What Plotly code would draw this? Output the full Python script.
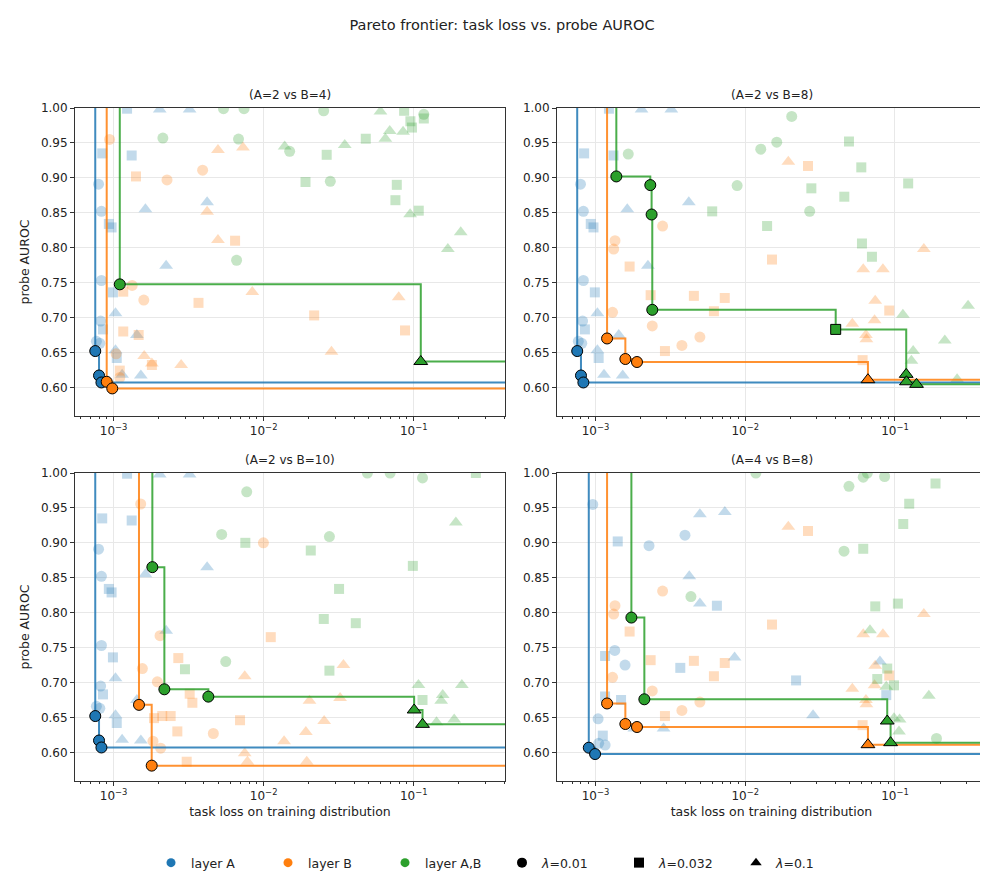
import numpy as np
import plotly.graph_objects as go
from plotly.subplots import make_subplots

# every run: (task loss, probe AUROC, lambda)
layerA_A2 = [
    (0.000794, 0.891, 0.01), (0.00083, 0.852, 0.01), (0.00083, 0.753, 0.01),
    (0.00082, 0.695, 0.01), (0.000768, 0.666, 0.01), (0.00081, 0.663, 0.01),
    (0.000755, 0.652, 0.01), (0.000800, 0.617, 0.01), (0.00083, 0.607, 0.01),
    (0.00123, 0.999, 0.032), (0.00084, 0.935, 0.032), (0.00132, 0.932, 0.032),
    (0.00093, 0.834, 0.032), (0.00097, 0.829, 0.032), (0.00099, 0.736, 0.032),
    (0.00085, 0.683, 0.032), (0.00105, 0.642, 0.032),
    (0.00203, 0.998, 0.1), (0.00321, 0.998, 0.1), (0.00163, 0.855, 0.1),
    (0.0042, 0.865, 0.1), (0.00224, 0.774, 0.1), (0.00103, 0.706, 0.1),
    (0.00143, 0.675, 0.1), (0.00103, 0.653, 0.1), (0.00114, 0.618, 0.1),
    (0.00152, 0.617, 0.1),
]
layerA_A4 = [
    (0.000959, 0.955, 0.01), (0.002278, 0.896, 0.01), (0.00396, 0.911, 0.01),
    (0.001345, 0.746, 0.01), (0.001576, 0.725, 0.01), (0.001041, 0.648, 0.01),
    (0.00105, 0.613, 0.01), (0.00116, 0.6105, 0.01), (0.000902, 0.6067, 0.01),
    (0.000994, 0.5976, 0.01),
    (0.001408, 0.902, 0.032), (0.00647, 0.810, 0.032), (0.001159, 0.738, 0.032),
    (0.003685, 0.721, 0.032), (0.02186, 0.703, 0.032), (0.0875, 0.682, 0.032),
    (0.001159, 0.680, 0.032), (0.001482, 0.675, 0.032), (0.001119, 0.624, 0.032),
    (0.00498, 0.941, 0.1), (0.00731, 0.944, 0.1), (0.00423, 0.852, 0.1),
    (0.00498, 0.813, 0.1), (0.00849, 0.736, 0.1), (0.0794, 0.730, 0.1),
    (0.02838, 0.653, 0.1), (0.00285, 0.634, 0.1), (0.001818, 0.634, 0.1),
]
layerB_B4 = [
    (0.00094, 0.955, 0.01), (0.00392, 0.911, 0.01), (0.00227, 0.897, 0.01),
    (0.00133, 0.746, 0.01), (0.00159, 0.725, 0.01), (0.00104, 0.648, 0.01),
    (0.00110, 0.614, 0.01), (0.00090, 0.608, 0.01), (0.00098, 0.5985, 0.01),
    (0.00141, 0.902, 0.032), (0.00645, 0.810, 0.032), (0.00116, 0.737, 0.032),
    (0.00368, 0.721, 0.032), (0.0217, 0.703, 0.032), (0.0875, 0.6815, 0.032),
    (0.00116, 0.680, 0.032), (0.00147, 0.675, 0.032), (0.0018, 0.632, 0.032),
    (0.0011, 0.624, 0.032),
    (0.00496, 0.940, 0.1), (0.00728, 0.9435, 0.1), (0.0042, 0.8515, 0.1),
    (0.00496, 0.811, 0.1), (0.0084, 0.7366, 0.1), (0.0794, 0.729, 0.1),
    (0.0016, 0.645, 0.1), (0.0283, 0.651, 0.1), (0.0018, 0.634, 0.1),
    (0.00282, 0.632, 0.1),
]
layerB_B8 = [
    (0.002807, 0.831, 0.01), (0.00135, 0.810, 0.01), (0.001323, 0.798, 0.01),
    (0.0013, 0.7075, 0.01), (0.002395, 0.688, 0.01), (0.00498, 0.672, 0.01),
    (0.003777, 0.660, 0.01), (0.001195, 0.670, 0.01), (0.001583, 0.6406, 0.01),
    (0.001893, 0.6363, 0.01),
    (0.02626, 0.917, 0.032), (0.00169, 0.773, 0.032), (0.0151, 0.783, 0.032),
    (0.002335, 0.732, 0.032), (0.004541, 0.731, 0.032), (0.0073, 0.728, 0.032),
    (0.00618, 0.709, 0.032), (0.0916, 0.710, 0.032), (0.00291, 0.652, 0.032),
    (0.0608, 0.639, 0.032),
    (0.0194, 0.923, 0.1), (0.1559, 0.798, 0.1), (0.0614, 0.769, 0.1),
    (0.0831, 0.769, 0.1), (0.0738, 0.724, 0.1), (0.0519, 0.691, 0.1),
    (0.0731, 0.696, 0.1), (0.064, 0.675, 0.1), (0.0645, 0.669, 0.1),
    (0.066, 0.611, 0.1),
]
layerB_B10 = [
    (0.001516, 0.9556, 0.01), (0.00996, 0.900, 0.01), (0.00204, 0.767, 0.01),
    (0.001555, 0.720, 0.01), (0.001957, 0.701, 0.01), (0.00183, 0.616, 0.01),
    (0.00206, 0.606, 0.01), (0.00462, 0.627, 0.01), (0.001477, 0.668, 0.01),
    (0.001795, 0.581, 0.01),
    (0.01115, 0.765, 0.032), (0.0027, 0.735, 0.032), (0.003215, 0.684, 0.032),
    (0.00335, 0.671, 0.032), (0.00186, 0.649, 0.032), (0.00211, 0.652, 0.032),
    (0.0024, 0.652, 0.032), (0.00266, 0.630, 0.032), (0.00696, 0.646, 0.032),
    (0.00307, 0.5866, 0.032),
    (0.034, 0.725, 0.1), (0.00748, 0.709, 0.1), (0.0202, 0.674, 0.1),
    (0.0323, 0.678, 0.1), (0.0253, 0.645, 0.1), (0.0191, 0.629, 0.1),
    (0.01368, 0.616, 0.1), (0.00748, 0.5986, 0.1), (0.0078, 0.5866, 0.1),
    (0.01937, 0.5866, 0.1),
]
layerAB_A2_B4 = [
    (0.0054, 0.999, 0.01), (0.0074, 0.999, 0.01), (0.0251, 0.996, 0.01),
    (0.1167, 0.991, 0.01), (0.00213, 0.957, 0.01), (0.0068, 0.9555, 0.01),
    (0.0149, 0.938, 0.01), (0.0278, 0.895, 0.01), (0.0066, 0.782, 0.01),
    (0.0011, 0.7475, 0.01),
    (0.0863, 0.996, 0.032), (0.1167, 0.985, 0.032), (0.095, 0.981, 0.032),
    (0.0973, 0.972, 0.032), (0.0479, 0.956, 0.032), (0.0263, 0.933, 0.032),
    (0.019, 0.894, 0.032), (0.0771, 0.890, 0.032), (0.0755, 0.868, 0.032),
    (0.108, 0.853, 0.032),
    (0.06, 0.995, 0.1), (0.0692, 0.967, 0.1), (0.0849, 0.966, 0.1),
    (0.0647, 0.956, 0.1), (0.0347, 0.947, 0.1), (0.0138, 0.945, 0.1),
    (0.0946, 0.848, 0.1), (0.2056, 0.822, 0.1), (0.1687, 0.798, 0.1),
    (0.1114, 0.637, 0.1),
]
layerAB_A2_B8 = [
    (0.02044, 0.988, 0.01), (0.01624, 0.951, 0.01), (0.0127, 0.941, 0.01),
    (0.00883, 0.889, 0.01), (0.02695, 0.852, 0.01), (0.001655, 0.934, 0.01),
    (0.001378, 0.902, 0.01), (0.002323, 0.8896, 0.01), (0.00237, 0.8475, 0.01),
    (0.002395, 0.711, 0.01),
    (0.0493, 0.952, 0.032), (0.0596, 0.915, 0.032), (0.02765, 0.885, 0.032),
    (0.1225, 0.892, 0.032), (0.04589, 0.873, 0.032), (0.006018, 0.852, 0.032),
    (0.014, 0.831, 0.032), (0.0602, 0.806, 0.032), (0.0702, 0.787, 0.032),
    (0.0402, 0.683, 0.032),
    (0.113, 0.704, 0.1), (0.3078, 0.717, 0.1), (0.2152, 0.667, 0.1),
    (0.1323, 0.652, 0.1), (0.1288, 0.638, 0.1), (0.26, 0.6115, 0.1),
    (0.1189, 0.6186, 0.1), (0.1193, 0.608, 0.1), (0.1393, 0.6043, 0.1),
]
layerAB_A2_B10 = [
    (0.0491, 1.0, 0.01), (0.0696, 1.0, 0.01), (0.1144, 0.993, 0.01),
    (0.00771, 0.973, 0.01), (0.00525, 0.912, 0.01), (0.02743, 0.909, 0.01),
    (0.00559, 0.730, 0.01), (0.001813, 0.8652, 0.01), (0.00218, 0.6903, 0.01),
    (0.00428, 0.6798, 0.01),
    (0.2594, 1.0, 0.032), (0.00755, 0.900, 0.032), (0.0206, 0.889, 0.032),
    (0.0986, 0.867, 0.032), (0.0318, 0.834, 0.032), (0.02515, 0.791, 0.032),
    (0.0411, 0.785, 0.032), (0.00299, 0.719, 0.032), (0.02743, 0.717, 0.032),
    (0.1144, 0.675, 0.032),
    (0.1908, 0.929, 0.1), (0.1075, 0.6965, 0.1), (0.156, 0.682, 0.1),
    (0.1523, 0.674, 0.1), (0.2092, 0.6965, 0.1), (0.1418, 0.643, 0.1),
    (0.186, 0.647, 0.1), (0.1006, 0.6607, 0.1), (0.1144, 0.6401, 0.1),
]
layerAB_A4_B8 = [
    (0.01178, 1.0, 0.01), (0.0614, 0.994, 0.01), (0.0654, 1.0, 0.01),
    (0.0853, 0.995, 0.01), (0.0493, 0.981, 0.01), (0.04568, 0.888, 0.01),
    (0.00434, 0.823, 0.01), (0.1894, 0.620, 0.01), (0.001737, 0.793, 0.01),
    (0.00212, 0.676, 0.01),
    (0.1866, 0.985, 0.032), (0.1245, 0.956, 0.032), (0.1136, 0.927, 0.032),
    (0.0614, 0.8915, 0.032), (0.0739, 0.809, 0.032), (0.1046, 0.813, 0.032),
    (0.0888, 0.720, 0.032), (0.0762, 0.705, 0.032), (0.0985, 0.696, 0.032),
    (0.0681, 0.775, 0.1), (0.0875, 0.694, 0.1), (0.1684, 0.681, 0.1),
    (0.0985, 0.649, 0.1), (0.1074, 0.647, 0.1), (0.1064, 0.630, 0.1),
    (0.0888, 0.6449, 0.1), (0.0935, 0.6139, 0.1),
]

panel_titles = ["(A=2 vs B=4)", "(A=2 vs B=8)", "(A=2 vs B=10)", "(A=4 vs B=8)"]
panels = [
    (layerA_A2, layerB_B4, layerAB_A2_B4),
    (layerA_A2, layerB_B8, layerAB_A2_B8),
    (layerA_A2, layerB_B10, layerAB_A2_B10),
    (layerA_A4, layerB_B8, layerAB_A4_B8),
]
layer_names = ["layer A", "layer B", "layer A,B"]
layer_colors = ["#1f77b4", "#ff7f0e", "#2ca02c"]
lambdas = [0.01, 0.032, 0.1]
lambda_symbols = {0.01: "circle", 0.032: "square", 0.1: "triangle-up"}
lambda_sizes = {0.01: 11, 0.032: 10, 0.1: 12}

XLOG = [-3.257, -0.392]
YR = [0.559, 1.0]
W, H = 988, 878
FONT = "DejaVu Sans, Arial, sans-serif"

# pixel boxes of the four axes (left, right, top, bottom)
col_px = [(67, 497), (549, 978)]
row_px = [(100, 408), (465, 773)]


def pareto(points):
    # lower loss and lower AUROC are both better
    best = np.inf
    front = []
    for p in sorted(points, key=lambda p: (p[0], p[1])):
        if p[1] < best:
            front.append(p)
            best = p[1]
    return front


fig = make_subplots(rows=2, cols=2)

for k, datasets in enumerate(panels):
    row, col = k // 2 + 1, k % 2 + 1
    # faded runs
    for name, color, pts in zip(layer_names, layer_colors, datasets):
        for lam in lambdas:
            sel = [p for p in pts if p[2] == lam]
            fig.add_trace(go.Scatter(
                x=[p[0] for p in sel], y=[p[1] for p in sel], mode="markers",
                marker=dict(symbol=lambda_symbols[lam], size=lambda_sizes[lam],
                            color=color, opacity=0.27, line=dict(width=0)),
                showlegend=False, hoverinfo="skip"), row=row, col=col)
    # frontier steps
    for name, color, pts in zip(layer_names, layer_colors, datasets):
        front = pareto(pts)
        xs = [front[0][0]] + [p[0] for p in front] + [10 ** (XLOG[1] + 0.5)]
        ys = [YR[1] + 0.1] + [p[1] for p in front] + [front[-1][1]]
        fig.add_trace(go.Scatter(
            x=xs, y=ys, mode="lines", line=dict(color=color, width=2, shape="hv"),
            opacity=0.85, showlegend=False, hoverinfo="skip"), row=row, col=col)
    for name, color, pts in zip(layer_names, layer_colors, datasets):
        front = pareto(pts)
        fig.add_trace(go.Scatter(
            x=[p[0] for p in front], y=[p[1] for p in front], mode="markers",
            marker=dict(symbol=[lambda_symbols[p[2]] for p in front],
                        size=[lambda_sizes[p[2]] for p in front], opacity=1,
                        color=color, line=dict(color="black", width=1)),
            showlegend=False), row=row, col=col)

# legend entries
for name, color in zip(layer_names, layer_colors):
    fig.add_trace(go.Scatter(x=[None], y=[None], mode="markers", name=name,
                             marker=dict(symbol="circle", size=9, color=color)))
for lam, lab in zip(lambdas, ["0.01", "0.032", "0.1"]):
    fig.add_trace(go.Scatter(x=[None], y=[None], mode="markers",
                             name=f"<i>λ</i>=" + lab,
                             marker=dict(symbol=lambda_symbols[lam], size=10, color="black")))

minor_vals = [m * 10.0 ** e for e in range(-4, 0) for m in range(2, 10)
              if XLOG[0] <= np.log10(m * 10.0 ** e) <= XLOG[1]]

annotations = []
for k in range(4):
    r, c = k // 2, k % 2
    x0, x1 = col_px[c]
    y0, y1 = row_px[r]
    ax = "" if k == 0 else str(k + 1)
    fig.layout["xaxis" + ax].update(
        domain=[x0 / W, x1 / W], type="log", range=XLOG,
        tickmode="array", tickvals=[1e-3, 1e-2, 1e-1],
        ticktext=["10<sup>−3</sup>", "10<sup>−2</sup>", "10<sup>−1</sup>"],
        ticks="outside", ticklen=4, tickcolor="#333", showline=True, linecolor="#333",
        linewidth=1, mirror=True, showgrid=True, gridcolor="#e8e8e8", zeroline=False,
        tickfont=dict(size=12, color="#222"), automargin=False,
        minor=dict(tickmode="array", tickvals=minor_vals, ticks="outside", ticklen=2,
                   tickcolor="#333", showgrid=False))
    if r == 1:
        fig.layout["xaxis" + ax].title = dict(text="task loss on training distribution",
                                              font=dict(size=12.5, color="#222"), standoff=4)
    fig.layout["yaxis" + ax].update(
        domain=[1 - y1 / H, 1 - y0 / H], range=YR, tick0=0.6, dtick=0.05,
        tickformat=".2f", ticks="outside", ticklen=4, tickcolor="#333",
        showline=True, linecolor="#333", linewidth=1, mirror=True, showgrid=True,
        gridcolor="#e8e8e8", zeroline=False, tickfont=dict(size=12, color="#222"),
        automargin=False)
    if c == 0:
        fig.layout["yaxis" + ax].title = dict(text="probe AUROC",
                                              font=dict(size=12.5, color="#222"), standoff=8)
    annotations.append(dict(text=panel_titles[k], x=(x0 + x1) / 2 / W, y=1 - (y0 - 13) / H,
                            xref="paper", yref="paper", showarrow=False,
                            xanchor="center", yanchor="middle",
                            font=dict(size=12, color="#222")))

fig.update_layout(
    width=W, height=H, margin=dict(l=0, r=0, t=0, b=0),
    paper_bgcolor="white", plot_bgcolor="white",
    font=dict(family=FONT, color="#222"),
    title=dict(text="Pareto frontier: task loss vs. probe AUROC", x=0.5, xanchor="center",
               y=1 - 17 / H, yanchor="middle", yref="container", font=dict(size=14.5, color="#222")),
    annotations=annotations,
    legend=dict(orientation="h", x=0.5, xanchor="center", y=1 - 855 / H, yanchor="middle",
                font=dict(size=12.5, color="#222"), entrywidth=72, entrywidthmode="pixels",
                bgcolor="rgba(0,0,0,0)"),
)

fig.write_html("out.html")
